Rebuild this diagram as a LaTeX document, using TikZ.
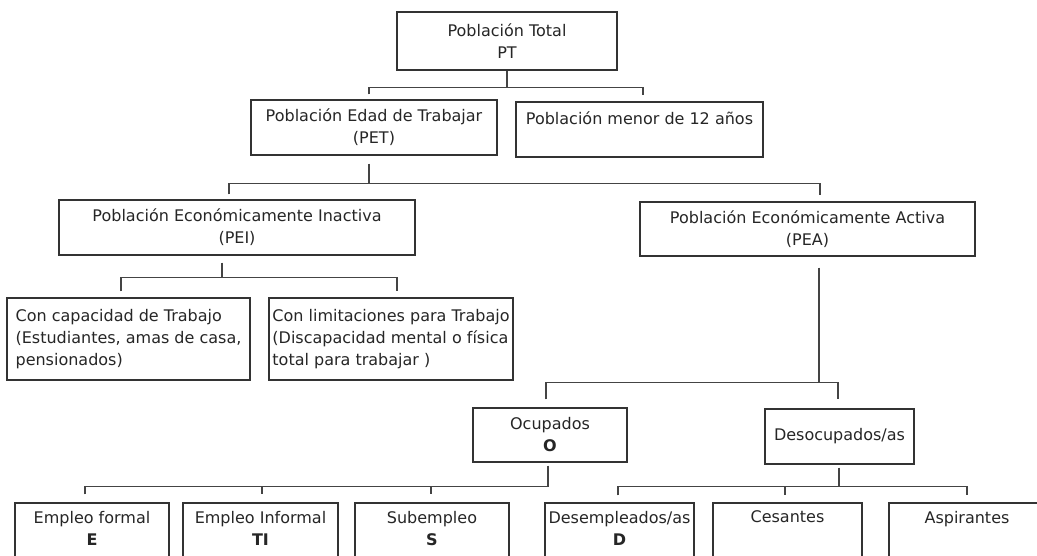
\documentclass[tikz,border=0pt]{standalone}
\usepackage{fontspec}
\setmainfont{DejaVu Sans}
\usetikzlibrary{calc}
\definecolor{boxline}{HTML}{333333}
\definecolor{connline}{HTML}{444444}
\definecolor{txt}{HTML}{262626}
\begin{document}
\begin{tikzpicture}[x=1pt,y=-1pt,
  box/.style={draw=boxline, line width=1.4pt, rectangle, inner sep=0pt, align=center, text=txt, font=\fontsize{16}{22}\selectfont},
  lbox/.style={box, align=left},
  conn/.style={draw=connline, line width=1.1pt}]
\useasboundingbox (0,0) rectangle (1037,555);
\clip (0,0) rectangle (1037,555);
\fill[white] (0,0) rectangle (1037,555);

% level 0
\node[box, minimum width=220pt, minimum height=58pt] (PT) at (507,41) {Población Total\\PT};
% level 1
\node[box, minimum width=246pt, minimum height=55pt] (PET) at (374,127.5) {Población Edad de Trabajar\\(PET)};
\node[box, minimum width=247pt, minimum height=55pt] (MEN) at (639.5,129.5) {Población menor de 12 años\\\mbox{}};
% level 2
\node[box, minimum width=356pt, minimum height=55pt] (PEI) at (237,227.5) {Población Económicamente Inactiva\\(PEI)};
\node[box, minimum width=335pt, minimum height=54pt] (PEA) at (807.5,229) {Población Económicamente Activa\\(PEA)};
% level 3
\node[lbox, minimum width=243pt, minimum height=82pt] (CAP) at (128.5,339) {Con capacidad de Trabajo\\(Estudiantes, amas de casa,\\pensionados)};
\node[lbox, minimum width=244pt, minimum height=82pt] (LIM) at (391,339) {Con limitaciones para Trabajo\\(Discapacidad mental o física\\total para trabajar )};
\node[box, minimum width=154pt, minimum height=54pt] (OCU) at (550,435) {Ocupados\\\textbf{O}};
\node[box, minimum width=149pt, minimum height=55pt] (DES) at (839.5,436.5) {Desocupados/as};
% level 4
\node[box, minimum width=154pt, minimum height=72pt] (EF) at (92,539) {Empleo formal\\\textbf{E}\\\mbox{}};
\node[box, minimum width=155pt, minimum height=72pt] (EI) at (260.5,539) {Empleo Informal\\\textbf{TI}\\\mbox{}};
\node[box, minimum width=154pt, minimum height=72pt] (SUB) at (432,539) {Subempleo\\\textbf{S}\\\mbox{}};
\node[box, minimum width=149pt, minimum height=72pt] (DEM) at (619.5,539) {Desempleados/as\\\textbf{D}\\\mbox{}};
\node[box, minimum width=149pt, minimum height=72pt] (CES) at (787.5,539) {Cesantes\\\mbox{}\\\mbox{}};
\node[box, minimum width=156pt, minimum height=72pt] (ASP) at (967,539) {Aspirantes\\\mbox{}\\\mbox{}};

% connectors: PT
\draw[conn] (PT.south) -- ++(0,17) coordinate (t1);
\draw[conn] ($(PET.north)+(-5,-5)$) |- (t1) -| ($(MEN.north)+(3.5,-6)$);
% PET
\draw[conn] ($(PET.south)+(-5,8)$) -- ++(0,20) coordinate (t2);
\draw[conn] ($(PEI.north)+(-8,-5)$) |- (t2) -| ($(PEA.north)+(12.5,-6)$);
% PEI
\draw[conn] ($(PEI.south)+(-15,7)$) -- ++(0,15) coordinate (t3);
\draw[conn] ($(CAP.north)+(-7.5,-6)$) |- (t3) -| ($(LIM.north)+(6,-6)$);
% PEA
\draw[conn] ($(PEA.south)+(11.5,11)$) -- ++(0,115) coordinate (t4);
\draw[conn] ($(OCU.north)+(-4,-8)$) |- (t4) -| ($(DES.north)+(-1.5,-9)$);
% Ocupados
\draw[conn] ($(OCU.south)+(-2,3)$) -- ++(0,21) coordinate (t5);
\draw[conn] ($(EF.north)+(-7,-8)$) |- (t5);
\coordinate (a1) at ($(EI.north)+(1.5,-8)$);
\draw[conn] (a1 |- t5) -- (a1);
\coordinate (a2) at ($(SUB.north)+(-1,-8)$);
\draw[conn] (a2 |- t5) -- (a2);
% Desocupados
\draw[conn] ($(DES.south)+(-0.5,3)$) -- ++(0,19) coordinate (t6);
\draw[conn] ($(DEM.north)+(-1.5,-7)$) |- (t6) -| ($(ASP.north)+(0,-7)$);
\coordinate (a3) at ($(CES.north)+(-2.5,-7)$);
\draw[conn] (a3 |- t6) -- (a3);
\end{tikzpicture}
\end{document}
